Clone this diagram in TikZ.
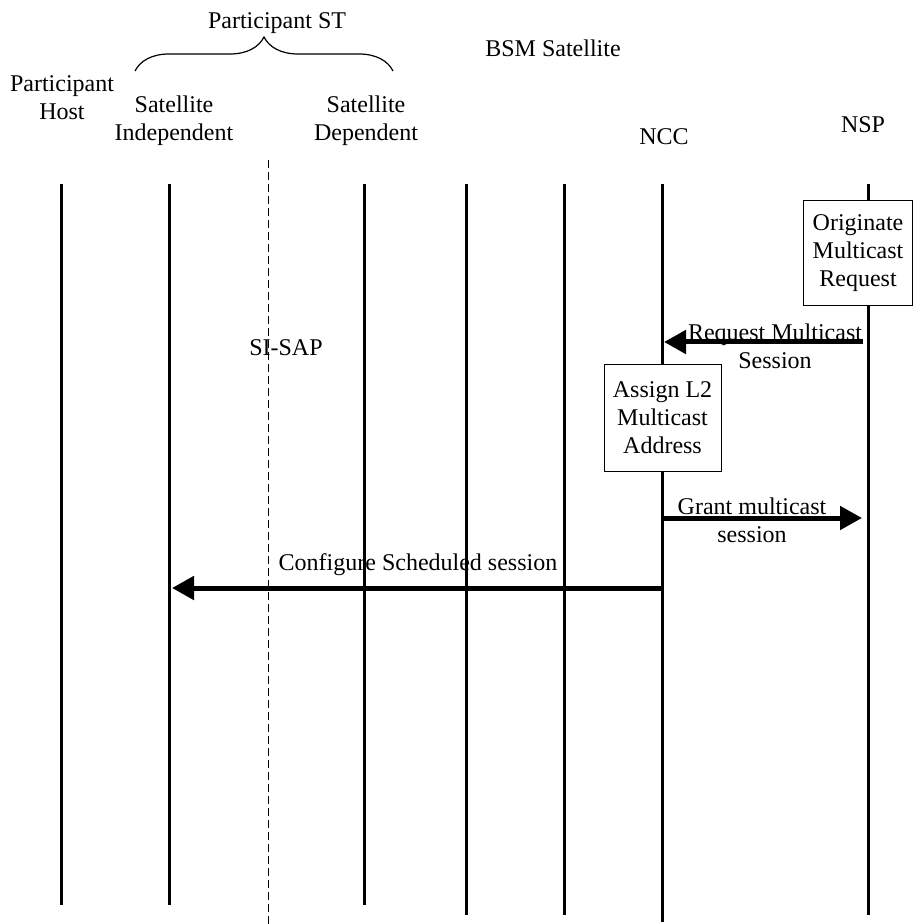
\documentclass[tikz,border=0pt]{standalone}
\usepackage{fontspec}
\setmainfont{Liberation Serif}
\usepackage{tikz}
\usetikzlibrary{arrows.meta,positioning,calc,decorations.pathreplacing}

\tikzset{
    label/.style={align=center, inner sep=0pt, font=\fontsize{12}{14}\selectfont},
    life/.style={line width=1.5pt},
    action/.style={label, draw, line width=0.5pt, fill=white},
    msg/.style={line width=2.5pt, -{Triangle[length=11pt, width=11.5pt]}}
}

\begin{document}
\begin{tikzpicture}[x=0.5pt, y=-0.5pt]
        \useasboundingbox (0,0) rectangle (913,924);
        \def\top{184}

        % headings
        \node[label] (pst) at (277, 23) {Participant ST};
        \draw[line width=0.6pt, decorate, decoration={brace, amplitude=17pt}] (135,71) -- (393,71);
        \node[label] (hosth) at (62, 98) {Participant\\Host};
        \node[label] (sih) at (174, 121) {Satellite\\Independent};
        \node[label] (sdh) at (366, 121) {Satellite\\Dependent};
        \node[label] (bsmh) at (553, 48) {BSM Satellite};
        \node[label] (ncch) at (664, 137) {NCC};
        \node[label] (nsph) at (863, 125) {NSP};

        % lifelines
        \foreach \name/\x/\bot in {host/61/905, si/169/905, sd/364/905, bsma/466/915, bsmb/564/915, ncc/662/922, nsp/868/915} {
            \coordinate (\name) at (\x, \top);
            \draw[life] (\name) -- (\x, \bot);
        }

        % service access point
        \draw[line width=0.5pt, dash pattern=on 4pt off 2pt] (268,160) -- (268,924);
        \node[label] (sisap) at (286, 348) {SI-SAP};

        % boxes on the lifelines
        \node[action, minimum width=54.5pt, minimum height=52.5pt] (orig) at (858, 253.5) {Originate\\Multicast\\Request};
        \node[action, minimum width=58.5pt, minimum height=53pt] (assign) at (662.5, 418) {Assign L2\\Multicast\\Address};

        % messages
        \coordinate (req) at (0, 342);
        \coordinate (grant) at (0, 518);
        \coordinate (conf) at (0, 588);
        \draw[msg] ([xshift=-2.5pt]nsp |- req) -- ([xshift=1pt]ncc |- req);
        \node[label] (reqt) at (775, 346) {Request Multicast\\Session};
        \draw[msg] (ncc |- grant) -- ([xshift=-3pt]nsp |- grant);
        \node[label] (grantt) at (752, 520) {Grant multicast\\session};
        \draw[msg] (ncc |- conf) -- ([xshift=1.5pt]si |- conf);
        \node[label] (conft) at (418, 565) {Configure Scheduled session};
\end{tikzpicture}
\end{document}
